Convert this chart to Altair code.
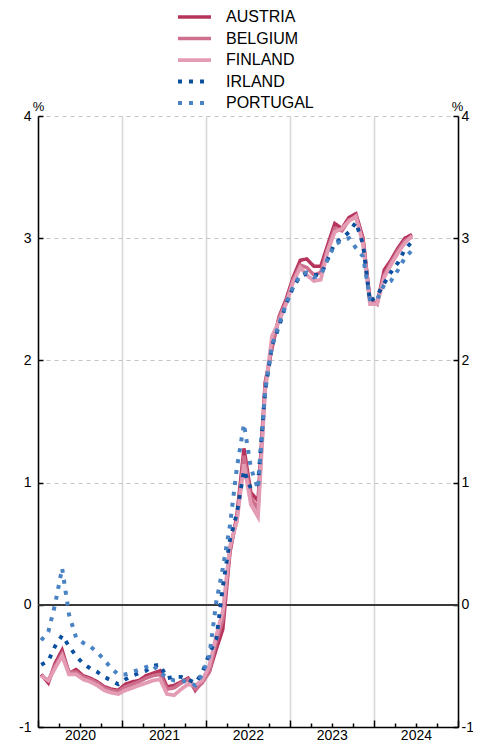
import altair as alt
import pandas as pd

countries = ["AUSTRIA", "BELGIUM", "FINLAND", "IRLAND", "PORTUGAL"]
colors = ["#b7345c", "#cd6f8d", "#e39cb4", "#0b4f9f", "#4a83c3"]
months = [f"{2020 + m // 12}-{m % 12 + 1:02d}-15" for m in range(54)]

austria = [-0.57, -0.64, -0.48, -0.37, -0.56, -0.53, -0.58, -0.60, -0.63, -0.67, -0.69, -0.70,
           -0.65, -0.63, -0.62, -0.58, -0.56, -0.54, -0.67, -0.66, -0.63, -0.60, -0.70, -0.63,
           -0.55, -0.36, -0.20, 0.43, 0.73, 1.28, 0.92, 0.85, 1.82, 2.10, 2.36, 2.50,
           2.68, 2.82, 2.83, 2.77, 2.77, 2.95, 3.12, 3.08, 3.17, 3.20, 3.00, 2.50,
           2.46, 2.74, 2.82, 2.92, 3.00, 3.03]
belgium = [-0.58, -0.62, -0.50, -0.40, -0.55, -0.55, -0.59, -0.61, -0.64, -0.68, -0.70, -0.71,
           -0.67, -0.65, -0.63, -0.60, -0.58, -0.57, -0.69, -0.68, -0.64, -0.61, -0.69, -0.64,
           -0.55, -0.30, -0.12, 0.45, 0.70, 1.22, 0.88, 0.78, 1.78, 2.12, 2.35, 2.48,
           2.66, 2.78, 2.76, 2.70, 2.72, 2.92, 3.08, 3.06, 3.15, 3.17, 2.98, 2.48,
           2.47, 2.70, 2.80, 2.90, 2.98, 3.01]
finland = [-0.58, -0.62, -0.52, -0.42, -0.57, -0.57, -0.61, -0.63, -0.66, -0.70, -0.72, -0.73,
           -0.70, -0.68, -0.66, -0.64, -0.62, -0.61, -0.73, -0.74, -0.69, -0.65, -0.66, -0.62,
           -0.50, -0.25, -0.05, 0.48, 0.68, 1.15, 0.82, 0.72, 1.75, 2.20, 2.32, 2.46,
           2.64, 2.76, 2.70, 2.65, 2.66, 2.90, 3.05, 3.08, 3.14, 3.18, 2.95, 2.46,
           2.46, 2.68, 2.78, 2.88, 2.96, 3.02]
irland = [-0.49, -0.46, -0.34, -0.25, -0.34, -0.42, -0.48, -0.52, -0.55, -0.59, -0.62, -0.65,
          -0.61, -0.58, -0.56, -0.54, -0.50, -0.49, -0.60, -0.59, -0.59, -0.61, -0.64, -0.56,
          -0.40, -0.28, 0.15, 0.53, 0.75, 1.10, 0.95, 0.99, 1.75, 2.12, 2.28, 2.46,
          2.60, 2.69, 2.71, 2.70, 2.70, 2.83, 2.96, 3.00, 3.05, 3.13, 2.95, 2.48,
          2.53, 2.63, 2.72, 2.80, 2.91, 2.97]
portugal = [-0.29, -0.22, 0.00, 0.30, -0.08, -0.27, -0.31, -0.34, -0.39, -0.45, -0.52, -0.57,
            -0.57, -0.55, -0.53, -0.51, -0.49, -0.56, -0.59, -0.62, -0.62, -0.63, -0.66, -0.57,
            -0.42, 0.03, 0.30, 0.65, 1.12, 1.48, 1.12, 0.95, 1.75, 2.12, 2.30, 2.46,
            2.60, 2.70, 2.72, 2.68, 2.70, 2.83, 2.95, 2.98, 3.00, 2.92, 2.85, 2.50,
            2.50, 2.62, 2.65, 2.74, 2.84, 2.90]

y_ticks = [-1, 0, 1, 2, 3, 4]
year_labels = [2020, 2021, 2022, 2023, 2024]

rows = []
for c, vals in zip(countries, [austria, belgium, finland, irland, portugal]):
    for d, v in zip(months, vals):
        rows.append({"date": d, "country": c, "value": v})
df = pd.DataFrame(rows)

W, H = 420, 611
TOP = 108
FONT = "Liberation Sans"

xscale = alt.Scale(type="utc", domain=[alt.DateTime(year=2020, month=1, date=1, utc=True),
                                       alt.DateTime(year=2025, month=1, date=1, utc=True)])
yscale = alt.Scale(domain=[-1, 4], nice=False, zero=False)

mid_years = [alt.DateTime(year=y, month=7, date=2, utc=True) for y in year_labels]
year_starts = [alt.DateTime(year=y, month=1, date=1, utc=True) for y in range(2020, 2026)]
quarters = [alt.DateTime(year=2020 + q // 4, month=(q % 4) * 3 + 1, date=1, utc=True) for q in range(21)]

ax_x_labels = alt.Axis(orient="bottom", values=mid_years, labelExpr="utcFormat(datum.value, '%Y')",
                       ticks=False, grid=False, domain=True, domainColor="black", domainWidth=1.5,
                       labelFontSize=14, labelPadding=1, labelFlush=False, labelColor="black",
                       labelFont=FONT, title=None)
ax_x_ticks = alt.Axis(orient="top", offset=-H, values=quarters, labels=False, domain=False, grid=False,
                      ticks=True, tickColor="black", tickWidth=1.5,
                      tickSize={"condition": {"test": "utcmonth(datum.value) == 0", "value": 7}, "value": 4},
                      title=None)
ax_x_grid = alt.Axis(orient="bottom", values=year_starts, labels=False, domain=False, ticks=False,
                     grid=True, gridColor="#d6d6d6", gridWidth=1.5, title=None)

ax_y_left = alt.Axis(orient="left", values=y_ticks, ticks=False, domain=True, domainColor="black",
                     domainWidth=1.5, grid=True, gridColor="#c4c4c4", gridDash=[4, 4], gridWidth=1,
                     labelFontSize=14, labelPadding=7, labelColor="black", labelFont=FONT,
                     labelExpr="'' + datum.value",
                     title="%", titleAngle=0, titleX=0, titleY=-3, titleAlign="center",
                     titleBaseline="bottom", titleFontSize=13, titleFontWeight="normal",
                     titleFont=FONT, titleColor="black")
ax_y_left_ticks = alt.Axis(orient="right", offset=-W, values=y_ticks, labels=False, domain=False,
                           grid=False, ticks=True, tickSize=5, tickColor="black", tickWidth=1.5, title=None)
ax_y_right = alt.Axis(orient="right", values=y_ticks, ticks=False, domain=True, domainColor="black",
                      domainWidth=1.5, grid=False, labelFontSize=14, labelPadding=3, labelColor="black",
                      labelFont=FONT, labelExpr="'' + datum.value",
                      title="%", titleAngle=0, titleX=-1, titleY=-3, titleAlign="center",
                      titleBaseline="bottom", titleFontSize=13, titleFontWeight="normal",
                      titleFont=FONT, titleColor="black")
ax_y_right_ticks = alt.Axis(orient="left", offset=-W, values=y_ticks, labels=False, domain=False,
                            grid=False, ticks=True, tickSize=5, tickColor="black", tickWidth=1.5, title=None)

base = alt.Chart(df)

zero = base.mark_rule(color="#3a3a3a", strokeWidth=1).encode(
    y=alt.YDatum(0, type="quantitative", scale=yscale, axis=None))

legend = alt.Legend(orient="none", legendX=138, legendY=-107, title=None, symbolType="stroke",
                    symbolSize=1089, symbolStrokeWidth=4.5, labelFontSize=16, labelFont=FONT,
                    labelColor="black", labelOffset=13, rowPadding=5.5, clipHeight=16, padding=0)

lines = base.mark_line(strokeCap="butt").encode(
    x=alt.X("date:T", scale=xscale, axis=ax_x_labels),
    y=alt.Y("value:Q", scale=yscale, axis=ax_y_left),
    color=alt.Color("country:N", scale=alt.Scale(domain=countries, range=colors), legend=legend),
    strokeDash=alt.StrokeDash("country:N",
                              scale=alt.Scale(domain=countries, range=[[1, 0], [1, 0], [1, 0], [4, 7], [4, 7]]),
                              legend=legend),
    strokeWidth=alt.StrokeWidth("country:N",
                                scale=alt.Scale(domain=countries, range=[3.5, 4, 5, 4, 4]), legend=None),
)

ticks_layer = base.mark_point(opacity=0).encode(
    x=alt.X("date:T", scale=xscale, axis=ax_x_ticks),
    y=alt.Y("value:Q", scale=yscale, axis=ax_y_left_ticks))
right_layer = base.mark_point(opacity=0).encode(
    x=alt.X("date:T", scale=xscale, axis=ax_x_grid),
    y=alt.Y("value:Q", scale=yscale, axis=ax_y_right))
right_ticks_layer = base.mark_point(opacity=0).encode(
    x=alt.X("date:T", scale=xscale, axis=None),
    y=alt.Y("value:Q", scale=yscale, axis=ax_y_right_ticks))

chart = alt.layer(zero, lines, ticks_layer, right_layer, right_ticks_layer).resolve_axis(
    x="independent", y="independent"
).properties(
    width=W, height=H,
    padding={"left": 30, "top": TOP, "right": 15, "bottom": 733 - TOP - H},
    autosize=alt.AutoSizeParams(type="none"),
).configure_view(stroke=None).configure_axis(zindex=0)

chart.save("out.html", embed_options={"renderer": "svg", "actions": False})
